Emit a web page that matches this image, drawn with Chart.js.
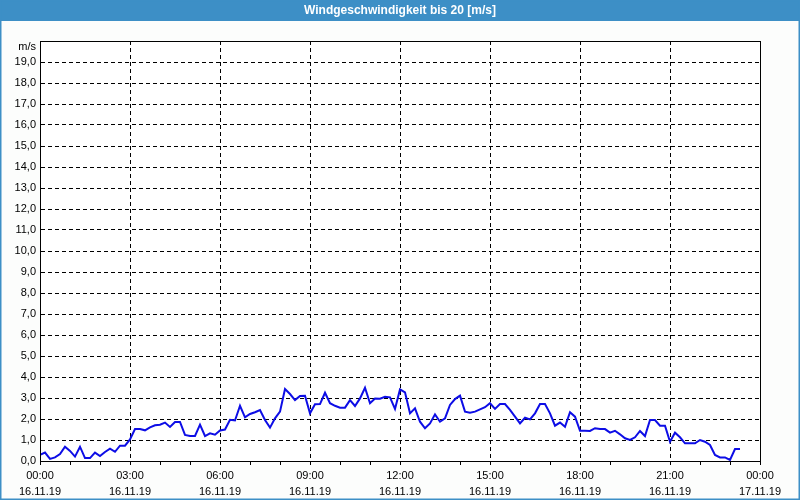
<!DOCTYPE html>
<html>
<head>
<meta charset="utf-8">
<script src="https://cdn.jsdelivr.net/npm/chart.js@4/dist/chart.umd.min.js"></script>
<style>
html,body{margin:0;padding:0;background:#fcfdfc;}
#wrap{width:800px;height:500px;position:relative;}
</style>
</head>
<body>
<div id="wrap"><canvas id="c" width="800" height="500"></canvas></div>
<script>
// Wind speed [m/s], 10-minute values starting 16.11.19 00:00
const startMinute = 0;
const stepMinutes = 10;
const windSpeed = [
  0.29,0.40,0.10,0.17,0.33,0.68,0.48,0.21,0.68,0.14,
  0.14,0.40,0.24,0.43,0.59,0.44,0.73,0.73,1.03,1.52,
  1.52,1.46,1.60,1.70,1.73,1.83,1.62,1.86,1.86,1.24,
  1.19,1.19,1.73,1.19,1.32,1.25,1.45,1.50,1.96,1.93,
  2.63,2.08,2.24,2.32,2.43,1.95,1.59,2.03,2.35,3.43,
  3.19,2.90,3.10,3.11,2.27,2.70,2.71,3.25,2.75,2.63,
  2.54,2.54,2.90,2.62,2.98,3.49,2.75,2.98,2.97,3.06,
  3.03,2.48,3.41,3.27,2.27,2.51,1.87,1.56,1.79,2.22,
  1.87,2.03,2.67,2.95,3.11,2.35,2.30,2.35,2.46,2.56,
  2.75,2.48,2.71,2.71,2.43,2.11,1.79,2.06,1.98,2.27,
  2.71,2.71,2.27,1.68,1.83,1.63,2.32,2.11,1.44,1.44,
  1.43,1.56,1.52,1.52,1.35,1.44,1.27,1.08,1.00,1.13,
  1.43,1.19,1.95,1.95,1.68,1.68,0.92,1.35,1.13,0.84,
  0.84,0.84,1.00,0.92,0.76,0.29,0.17,0.17,0.05,0.57,
  0.57
];
// x tick labels every 3 hours
const tickMinutes = [0,180,360,540,720,900,1080,1260,1440];
const tickTimes = ['00:00','03:00','06:00','09:00','12:00','15:00','18:00','21:00','00:00'];
const tickDates = ['16.11.19','16.11.19','16.11.19','16.11.19','16.11.19','16.11.19','16.11.19','16.11.19','17.11.19'];
const yMax = 20;
const unitLabel = 'm/s';
const titleText = 'Windgeschwindigkeit bis 20 [m/s]';

const points = windSpeed.map((v,i)=>({x:startMinute + i*stepMinutes, y:v}));
const FONT = '"Liberation Sans", Arial, sans-serif';

const framePlugin = {
  id:'frame',
  beforeDraw(chart){
    const ctx = chart.ctx, a = chart.chartArea;
    ctx.save();
    ctx.fillStyle = '#fcfdfc';
    ctx.fillRect(0,0,800,500);
    ctx.fillStyle = '#ffffff';
    ctx.fillRect(a.left,a.top,a.right-a.left,a.bottom-a.top);
    ctx.restore();
  },
  afterDraw(chart){
    const ctx = chart.ctx, a = chart.chartArea;
    ctx.save();
    // plot border
    ctx.strokeStyle = '#000';
    ctx.lineWidth = 1;
    ctx.strokeRect(Math.round(a.left)+0.5, Math.round(a.top)+0.5, Math.round(a.right-a.left), Math.round(a.bottom-a.top));
    // unit label
    ctx.fillStyle = '#000';
    ctx.font = '11px ' + FONT;
    ctx.textAlign = 'right';
    ctx.textBaseline = 'middle';
    ctx.fillText(unitLabel, a.left - 4, a.top + 6);
    // title bar
    ctx.fillStyle = '#3d8fc6';
    ctx.fillRect(0,0,800,21);
    ctx.fillStyle = '#ffffff';
    ctx.font = 'bold 12px ' + FONT;
    ctx.textAlign = 'center';
    ctx.fillText(titleText, 400, 11);
    // outer frame
    ctx.strokeStyle = '#3d8fc6';
    ctx.lineWidth = 3;
    ctx.strokeRect(0,0,800,500);
    ctx.restore();
  }
};

new Chart(document.getElementById('c'), {
  type:'line',
  data:{datasets:[{
    data:points,
    borderColor:'#0d0de6',
    borderWidth:2,
    pointRadius:0,
    tension:0,
    fill:false
  }]},
  options:{
    responsive:false,
    animation:false,
    layout:{padding:{left:0,right:40,top:41,bottom:0}},
    plugins:{legend:{display:false},tooltip:{enabled:false},title:{display:false}},
    scales:{
      x:{
        type:'linear',
        min:0,max:1440,
        afterFit(s){ s.height = 39; },
        afterBuildTicks(s){ const t=[]; for(let m=0;m<=1440;m+=60) t.push({value:m}); s.ticks=t; },
        ticks:{
          autoSkip:false,maxRotation:0,padding:3,
          color:'#000',
          font:{family:FONT,size:11,lineHeight:1.45},
          callback(v){ const k = tickMinutes.indexOf(v); return k>=0 ? [tickTimes[k], tickDates[k]] : ''; }
        },
        grid:{
          color(c){ const v=c.tick&&c.tick.value; return (v%180===0 && v>0 && v<1440) ? '#000' : 'rgba(0,0,0,0)'; },
          tickColor:'#000',
          tickLength:4,
          lineWidth:1
        },
        border:{display:true,color:'#000',width:1,dash:[4,3]}
      },
      y:{
        min:0,max:yMax,
        afterFit(s){ s.width = 40; },
        ticks:{
          stepSize:1,
          color:'#000',
          padding:4,
          font:{family:FONT,size:11},
          callback(v){ return v>=yMax ? '' : v.toFixed(1).replace('.',','); }
        },
        grid:{
          drawTicks:false,
          color(c){ const v=c.tick&&c.tick.value; return (v>0 && v<yMax) ? '#000' : 'rgba(0,0,0,0)'; },
          lineWidth:1
        },
        border:{display:true,color:'#000',width:1,dash:[4,3]}
      }
    }
  },
  plugins:[framePlugin]
});
</script>
</body>
</html>
